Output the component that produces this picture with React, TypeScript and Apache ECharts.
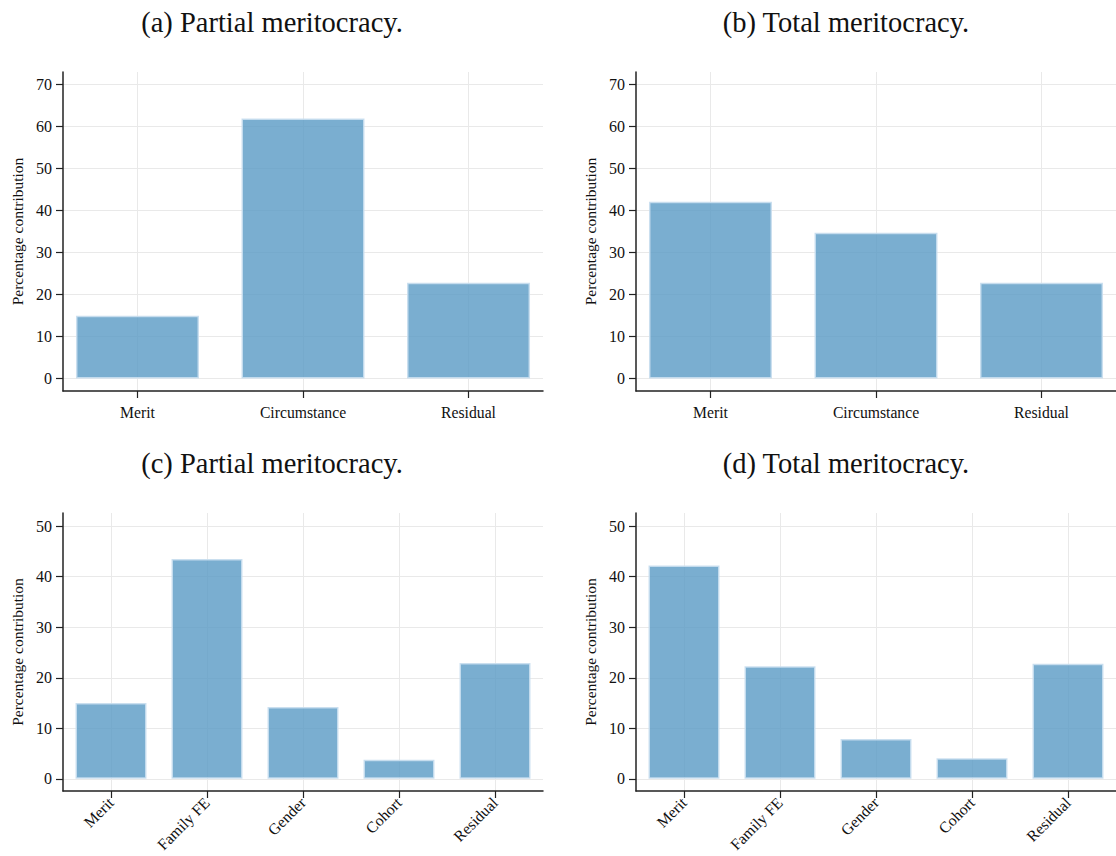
import React, { useEffect, useRef } from "react";
import * as echarts from "echarts";

const titles = [
  "(a) Partial meritocracy.",
  "(b) Total meritocracy.",
  "(c) Partial meritocracy.",
  "(d) Total meritocracy.",
];

const catsTop = ["Merit", "Circumstance", "Residual"];
const catsBottom = ["Merit", "Family FE", "Gender", "Cohort", "Residual"];

const partialTop = [14.9, 61.9, 22.8];
const totalTop = [42.1, 34.7, 22.8];
const partialBottom = [15.0, 43.5, 14.2, 3.8, 22.9];
const totalBottom = [42.2, 22.3, 7.9, 4.1, 22.8];

const yTicksTop = [0, 10, 20, 30, 40, 50, 60, 70];
const yTicksBottom = [0, 10, 20, 30, 40, 50];

const yName = "Percentage contribution";

const FONT = "Liberation Serif";
const BAR = "rgba(89,154,196,0.8)";
const BAR_BORDER = "rgba(200,222,238,0.9)";
const AXIS = "#222222";
const GRID_LINE = "#e9e9e9";

export default function App() {
  const ref = useRef<HTMLDivElement>(null);

  useEffect(() => {
    if (!ref.current) return;
    const chart = echarts.init(ref.current, undefined, { renderer: "svg" });

    const panels = [
      { cats: catsTop, vals: partialTop, yt: yTicksTop, left: 63, top: 72, h: 319, ymin: -3, ymax: 73, bw: 123, rot: false },
      { cats: catsTop, vals: totalTop, yt: yTicksTop, left: 636, top: 72, h: 319, ymin: -3, ymax: 73, bw: 123, rot: false },
      { cats: catsBottom, vals: partialBottom, yt: yTicksBottom, left: 63, top: 513, h: 278, ymin: -2.4, ymax: 52.6, bw: 71, rot: true },
      { cats: catsBottom, vals: totalBottom, yt: yTicksBottom, left: 636, top: 513, h: 278, ymin: -2.4, ymax: 52.6, bw: 71, rot: true },
    ];

    const grid = panels.map((p) => ({ left: p.left, top: p.top, width: 480, height: p.h }));

    const xAxis = panels.map((p, i) => {
      const n = p.cats.length;
      const pad = n === 3 ? 0.45 : 0.5;
      const idx = p.cats.map((_, k) => k);
      return {
        type: "value",
        gridIndex: i,
        min: -pad,
        max: n - 1 + pad,
        axisLine: { show: true, onZero: false, lineStyle: { color: AXIS, width: 1.5 } },
        axisTick: { show: true, customValues: idx, length: 7, lineStyle: { color: AXIS, width: 1.2 } },
        axisLabel: {
          customValues: idx,
          formatter: (v: number) => p.cats[Math.round(v)] ?? "",
          color: "#111",
          fontFamily: FONT,
          fontSize: 15.7,
          margin: p.rot ? 9 : 13,
          rotate: p.rot ? 45 : 0,
        },
        splitLine: { show: true, lineStyle: { color: GRID_LINE, width: 1 } },
      };
    });

    const yAxis = panels.map((p, i) => ({
      type: "value",
      gridIndex: i,
      min: p.ymin,
      max: p.ymax,
      name: yName,
      nameLocation: "middle",
      nameGap: 38,
      nameTextStyle: { fontFamily: FONT, fontSize: 15.5, color: "#111" },
      axisLine: { show: true, onZero: false, lineStyle: { color: AXIS, width: 1.5 } },
      axisTick: { show: true, customValues: p.yt, length: 7, lineStyle: { color: AXIS, width: 1.2 } },
      axisLabel: { customValues: p.yt, color: "#111", fontFamily: FONT, fontSize: 16, margin: 11 },
      splitLine: { show: true, lineStyle: { color: GRID_LINE, width: 1 } },
    }));

    const series = panels.map((p, i) => ({
      type: "bar",
      xAxisIndex: i,
      yAxisIndex: i,
      barWidth: p.bw,
      data: p.vals.map((v, k) => [k, v]),
      itemStyle: { color: BAR, borderColor: BAR_BORDER, borderWidth: 1.5 },
      z: 3,
    }));

    const titleCenters = [
      { x: 272, y: 22 },
      { x: 846, y: 22 },
      { x: 272, y: 463 },
      { x: 846, y: 463 },
    ];

    chart.setOption({
      animation: false,
      backgroundColor: "#ffffff",
      grid,
      xAxis,
      yAxis,
      series,
      graphic: titles.map((t, i) => ({
        type: "text",
        x: titleCenters[i].x,
        y: titleCenters[i].y,
        style: {
          text: t,
          fontFamily: FONT,
          fontSize: 28.5,
          fill: "#111",
          textAlign: "center",
          textVerticalAlign: "middle",
        },
      })),
    });

    return () => chart.dispose();
  }, []);

  return (
    <div
      ref={ref}
      style={{ position: "fixed", left: 0, top: 0, width: 1116, height: 856, background: "#fff" }}
    />
  );
}
